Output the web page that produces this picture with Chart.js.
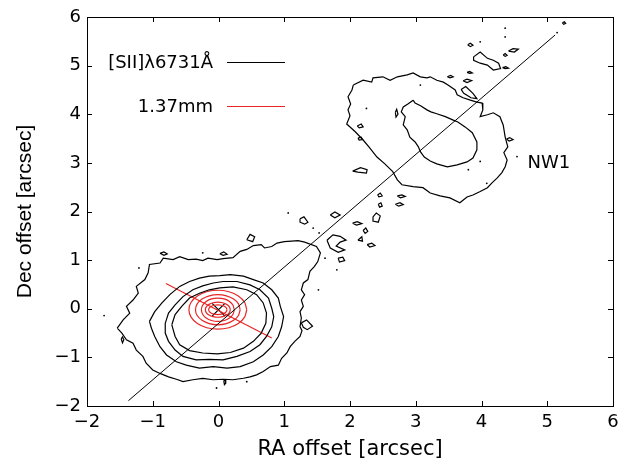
<!DOCTYPE html>
<html>
<head>
<meta charset="utf-8">
<script src="https://cdn.jsdelivr.net/npm/chart.js@4.4.0/dist/chart.umd.min.js"></script>
<style>
  html, body { margin: 0; padding: 0; background: #fff; }
  #wrap { width: 634px; height: 467px; }
</style>
</head>
<body>
<div id="wrap"><canvas id="c" width="634" height="467"></canvas></div>
<script>
// Axis ticks (arcsec)
const xTicks = [-2, -1, 0, 1, 2, 3, 4, 5, 6];
const yTicks = [-2, -1, 0, 1, 2, 3, 4, 5, 6];
const seriesNames = ['[SII]\u03bb6731\u00c5', '1.37mm'];
const knotName = 'NW1';
const knotLabelPos = [4.7, 3.0];

// [SII] contours around the source, lowest level first
const siiSouthL1 = [[-1.54,-0.40],[-1.45,-0.23],[-1.35,-0.09],[-1.40,0.05],[-1.30,0.18],[-1.22,0.32],[-1.25,0.46],[-1.12,0.60],[-1.07,0.74],[-1.05,0.91],[-0.89,0.94],[-0.84,1.04],[-0.69,1.01],[-0.59,1.07],[-0.46,1.01],[-0.34,1.02],[-0.24,0.99],[-0.16,1.04],[-0.02,1.01],[0.07,1.03],[0.22,1.05],[0.33,1.18],[0.43,1.22],[0.53,1.30],[0.65,1.32],[0.70,1.25],[0.81,1.28],[0.89,1.35],[1.00,1.38],[1.11,1.39],[1.21,1.40],[1.31,1.37],[1.49,1.28],[1.55,1.15],[1.51,0.97],[1.46,0.87],[1.39,0.77],[1.36,0.60],[1.29,0.53],[1.26,0.39],[1.31,0.29],[1.26,0.18],[1.29,0.05],[1.24,-0.06],[1.26,-0.19],[1.24,-0.37],[1.27,-0.45],[1.24,-0.57],[1.16,-0.67],[1.09,-0.78],[1.04,-0.91],[0.96,-1.02],[0.91,-1.16],[0.79,-1.19],[0.68,-1.29],[0.58,-1.36],[0.48,-1.40],[0.38,-1.43],[0.22,-1.46],[0.07,-1.45],[-0.08,-1.46],[-0.24,-1.43],[-0.39,-1.46],[-0.54,-1.50],[-0.64,-1.45],[-0.76,-1.40],[-0.89,-1.33],[-1.00,-1.26],[-1.10,-1.12],[-1.15,-0.98],[-1.25,-0.85],[-1.30,-0.71],[-1.40,-0.64],[-1.47,-0.50]];
const siiSouthL2 = [[-1.05,-0.26],[-0.97,-0.06],[-0.86,0.12],[-0.74,0.29],[-0.59,0.46],[-0.44,0.56],[-0.29,0.63],[-0.14,0.67],[0.02,0.68],[0.18,0.70],[0.38,0.67],[0.53,0.60],[0.68,0.53],[0.81,0.39],[0.91,0.22],[0.94,0.05],[0.99,-0.16],[0.96,-0.37],[0.91,-0.57],[0.81,-0.78],[0.68,-0.95],[0.53,-1.09],[0.33,-1.19],[0.13,-1.22],[-0.08,-1.19],[-0.29,-1.22],[-0.49,-1.16],[-0.64,-1.09],[-0.79,-0.95],[-0.89,-0.78],[-0.97,-0.57],[-1.02,-0.40]];
const siiSouthL3 = [[-0.81,-0.30],[-0.76,-0.09],[-0.66,0.08],[-0.54,0.25],[-0.39,0.39],[-0.24,0.47],[-0.08,0.53],[0.07,0.56],[0.28,0.56],[0.48,0.49],[0.63,0.39],[0.76,0.22],[0.81,0.01],[0.84,-0.16],[0.81,-0.37],[0.73,-0.57],[0.63,-0.74],[0.48,-0.88],[0.28,-0.98],[0.07,-1.05],[-0.14,-1.04],[-0.34,-1.05],[-0.54,-0.98],[-0.66,-0.85],[-0.76,-0.67],[-0.81,-0.50]];
const siiSouthL4 = [[-0.71,-0.33],[-0.66,-0.12],[-0.56,0.05],[-0.44,0.22],[-0.29,0.32],[-0.14,0.39],[0.02,0.43],[0.22,0.45],[0.43,0.39],[0.58,0.29],[0.68,0.12],[0.73,-0.09],[0.72,-0.30],[0.65,-0.50],[0.53,-0.67],[0.38,-0.81],[0.18,-0.90],[-0.02,-0.93],[-0.24,-0.91],[-0.44,-0.86],[-0.59,-0.74],[-0.66,-0.57]];

// [SII] contours of the NW1 knot
const siiKnotL1 = [[2.05,4.60],[2.20,4.70],[2.33,4.66],[2.35,4.75],[2.50,4.77],[2.61,4.70],[2.72,4.77],[2.87,4.81],[2.96,4.85],[3.07,4.77],[3.17,4.75],[3.22,4.77],[3.32,4.70],[3.42,4.66],[3.49,4.60],[3.60,4.50],[3.63,4.40],[3.72,4.34],[3.83,4.29],[3.93,4.25],[4.01,4.23],[4.02,4.09],[3.98,3.95],[4.09,3.99],[4.18,4.03],[4.28,3.95],[4.33,3.78],[4.36,3.53],[4.40,3.33],[4.34,3.21],[4.39,3.06],[4.36,2.92],[4.31,2.80],[4.24,2.69],[4.16,2.59],[4.09,2.49],[3.98,2.41],[3.87,2.34],[3.78,2.30],[3.67,2.18],[3.52,2.28],[3.37,2.32],[3.22,2.38],[3.11,2.49],[2.96,2.51],[2.79,2.55],[2.72,2.65],[2.65,2.82],[2.53,2.98],[2.41,3.12],[2.30,3.31],[2.20,3.47],[2.08,3.64],[1.95,3.80],[2.00,3.97],[1.97,4.09],[2.01,4.21],[1.97,4.36],[2.03,4.50]];
const siiKnotL2 = [[2.96,4.29],[2.88,4.21],[2.81,4.15],[2.78,4.05],[2.84,3.95],[2.81,3.78],[2.87,3.68],[2.91,3.53],[2.99,3.43],[3.04,3.33],[3.07,3.23],[3.13,3.12],[3.22,3.04],[3.32,2.98],[3.48,2.92],[3.63,2.96],[3.78,3.02],[3.87,3.10],[3.93,3.27],[3.93,3.43],[3.86,3.62],[3.75,3.74],[3.64,3.84],[3.57,3.88],[3.45,3.95],[3.32,4.01],[3.23,4.05],[3.17,4.09],[3.08,4.17],[2.99,4.23]];

// Small isolated [SII] islands along the jet
const siiIslands = [
  [[1.24,1.85],[1.30,1.89],[1.36,1.78],[1.31,1.74],[1.24,1.78]],
  [[1.70,1.93],[1.77,1.99],[1.85,1.93],[1.77,1.87]],
  [[0.43,1.42],[0.48,1.53],[0.55,1.48],[0.52,1.38]],
  [[0.02,1.13],[0.08,1.17],[0.13,1.12],[0.07,1.10]],
  [[1.65,1.41],[1.74,1.52],[1.85,1.49],[1.94,1.41],[1.85,1.37],[1.79,1.29],[1.92,1.21],[1.82,1.16],[1.70,1.25]],
  [[1.82,1.04],[1.89,1.06],[1.92,0.99],[1.84,0.96]],
  [[2.12,1.41],[2.18,1.48],[2.19,1.39]],
  [[2.26,1.32],[2.33,1.35],[2.38,1.30],[2.30,1.27]],
  [[2.04,1.76],[2.11,1.79],[2.18,1.75],[2.10,1.72]],
  [[2.20,1.61],[2.24,1.66],[2.27,1.59],[2.23,1.55]],
  [[2.35,1.89],[2.40,1.97],[2.46,1.91],[2.43,1.78],[2.36,1.80]],
  [[1.26,-0.29],[1.34,-0.23],[1.43,-0.36],[1.35,-0.43],[1.29,-0.38]],
  [[-1.48,-0.62],[-1.46,-0.58],[-1.44,-0.64],[-1.46,-0.70]],
  [[-0.89,1.14],[-0.83,1.17],[-0.78,1.13],[-0.83,1.10]],
  [[0.08,-1.48],[0.10,-1.46],[0.11,-1.53],[0.09,-1.56]],
  [[2.04,2.83],[2.16,2.90],[2.26,2.86],[2.25,2.79],[2.12,2.81]],
  [[2.11,3.76],[2.17,3.80],[2.20,3.74],[2.14,3.72]],
  [[2.12,3.51],[2.17,3.53],[2.19,3.48],[2.14,3.47]],
  [[2.69,4.04],[2.71,4.10],[2.73,4.00],[2.70,3.94]],
  [[3.48,4.77],[3.53,4.80],[3.57,4.77],[3.52,4.75]],
  [[3.72,4.69],[3.78,4.72],[3.85,4.69],[3.78,4.65]],
  [[3.69,4.51],[3.76,4.57],[3.87,4.43],[3.93,4.32],[3.84,4.34],[3.73,4.43]],
  [[2.42,2.34],[2.46,2.38],[2.49,2.32],[2.44,2.30]],
  [[2.72,2.32],[2.79,2.34],[2.84,2.31],[2.77,2.28]],
  [[2.69,2.15],[2.76,2.18],[2.81,2.14],[2.74,2.11]],
  [[2.43,2.15],[2.47,2.18],[2.49,2.11],[2.45,2.09]],
  [[3.88,5.18],[3.98,5.28],[4.09,5.15],[4.18,5.11],[4.26,5.05],[4.29,4.94],[4.18,4.91],[4.09,5.01],[3.98,5.05],[3.88,5.11]],
  [[3.79,5.43],[3.83,5.46],[3.87,5.42],[3.83,5.39]],
  [[4.41,5.30],[4.48,5.35],[4.56,5.34],[4.50,5.28]],
  [[4.33,5.22],[4.36,5.25],[4.39,5.21],[4.36,5.19]],
  [[4.32,4.96],[4.37,4.98],[4.41,4.95],[4.36,4.94]],
  [[3.78,4.86],[3.82,4.88],[3.86,4.85],[3.82,4.84]],
  [[4.38,3.49],[4.43,3.52],[4.48,3.48],[4.42,3.45]],
  [[5.23,5.88],[5.26,5.90],[5.28,5.87],[5.25,5.85]]
];
// Single-pixel [SII] specks
const siiSpecks = [[-1.74,-0.14],[-1.21,0.84],[-0.24,1.15],[-0.03,-1.63],[0.43,-1.50],[1.06,1.97],[1.44,1.66],[1.62,1.04],[1.52,0.39],[1.80,0.80],[2.25,4.12],[3.07,4.60],[4.36,5.77],[4.36,5.59],[3.98,5.49],[5.15,5.68],[3.98,3.03],[4.54,3.13],[3.80,2.86],[4.08,2.58],[1.53,1.56]];

// Jet axis and disk axis
const jetAxis = [[-1.37,-1.89],[5.12,5.63]];
const diskAxis = [[-0.80,0.52],[0.81,-0.60]];
const sourcePos = [[0.00,-0.02]];

// 1.37mm continuum contours, outermost first
const mmL1 = [[0.43,-0.02],[0.397,0.133],[0.301,0.263],[0.159,0.350],[-0.01,0.38],[-0.179,0.350],[-0.321,0.263],[-0.417,0.133],[-0.45,-0.02],[-0.417,-0.173],[-0.321,-0.303],[-0.179,-0.390],[-0.01,-0.42],[0.159,-0.390],[0.301,-0.303],[0.397,-0.173]];
const mmL2 = [[0.33,-0.02],[0.304,0.099],[0.23,0.199],[0.12,0.266],[-0.01,0.29],[-0.14,0.266],[-0.25,0.199],[-0.324,0.099],[-0.35,-0.02],[-0.324,-0.139],[-0.25,-0.239],[-0.14,-0.306],[-0.01,-0.33],[0.12,-0.306],[0.23,-0.239],[0.304,-0.139]];
const mmL3 = [[0.24,-0.02],[0.221,0.072],[0.167,0.15],[0.086,0.202],[-0.01,0.22],[-0.106,0.202],[-0.187,0.15],[-0.241,0.072],[-0.26,-0.02],[-0.241,-0.112],[-0.187,-0.19],[-0.106,-0.242],[-0.01,-0.26],[0.086,-0.242],[0.167,-0.19],[0.221,-0.112]];
const mmL4 = [[0.18,-0.02],[0.166,0.039],[0.124,0.09],[0.063,0.123],[-0.01,0.135],[-0.083,0.123],[-0.144,0.09],[-0.186,0.039],[-0.20,-0.02],[-0.186,-0.079],[-0.144,-0.13],[-0.083,-0.163],[-0.01,-0.175],[0.063,-0.163],[0.124,-0.13],[0.166,-0.079]];
const mmL5 = [[0.13,-0.02],[0.119,0.018],[0.089,0.051],[0.044,0.072],[-0.01,0.08],[-0.064,0.072],[-0.109,0.051],[-0.139,0.018],[-0.15,-0.02],[-0.139,-0.058],[-0.109,-0.091],[-0.064,-0.112],[-0.01,-0.12],[0.044,-0.112],[0.089,-0.091],[0.119,-0.058]];

const BLACK = '#000000';
const RED = 'rgb(232,38,38)';
const TEXT_FONT = "'DejaVu Sans', 'Liberation Sans', Arial, sans-serif";

const closeLoop = pts => pts.concat([pts[0]]);
const path = (pts, extra) => Object.assign({
  data: pts, showLine: true, pointRadius: 0, pointHoverRadius: 0,
  borderColor: BLACK, borderWidth: 1.2, tension: 0, fill: false
}, extra || {});

const datasets = [];
[siiSouthL1, siiSouthL2, siiSouthL3, siiSouthL4, siiKnotL1, siiKnotL2].forEach(c => {
  datasets.push(path(closeLoop(c), { label: seriesNames[0] }));
});
siiIslands.forEach(c => datasets.push(path(closeLoop(c), { label: seriesNames[0] })));
datasets.push({ label: seriesNames[0], data: siiSpecks, showLine: false, pointRadius: 0.9,
  pointBackgroundColor: BLACK, pointBorderWidth: 0 });
datasets.push(path(jetAxis, { label: seriesNames[0], borderWidth: 1 }));
[mmL1, mmL2, mmL3, mmL4, mmL5].forEach(c => {
  datasets.push(path(closeLoop(c), { label: seriesNames[1], borderColor: RED, tension: 0.2 }));
});
datasets.push(path(diskAxis, { label: seriesNames[1], borderColor: RED }));
datasets.push({ label: seriesNames[0], data: sourcePos, showLine: false, pointStyle: 'crossRot',
  pointRadius: 9, pointBorderColor: BLACK, pointBorderWidth: 1.2 });

const minusFmt = v => (v < 0 ? '\u2212' + Math.abs(v) : String(v));

// Boxed frame with inward ticks on all four sides
const frameTicks = {
  id: 'frameTicks',
  afterDatasetsDraw(chart) {
    const { ctx, chartArea: a, scales: { x, y } } = chart;
    const L = 5;
    ctx.save();
    ctx.strokeStyle = BLACK;
    ctx.lineWidth = 1;
    ctx.beginPath();
    xTicks.forEach(v => {
      const px = Math.round(x.getPixelForValue(v)) + 0.5;
      ctx.moveTo(px, a.bottom); ctx.lineTo(px, a.bottom - L);
      ctx.moveTo(px, a.top); ctx.lineTo(px, a.top + L);
    });
    yTicks.forEach(v => {
      const py = Math.round(y.getPixelForValue(v)) + 0.5;
      ctx.moveTo(a.left, py); ctx.lineTo(a.left + L, py);
      ctx.moveTo(a.right, py); ctx.lineTo(a.right - L, py);
    });
    ctx.stroke();
    ctx.strokeRect(Math.round(a.left) + 0.5, Math.round(a.top) + 0.5,
      Math.round(a.right - a.left), Math.round(a.bottom - a.top));
    ctx.restore();
  }
};

// Legend (text left of its line sample) and the knot label
const annotations = {
  id: 'annotations',
  afterDraw(chart) {
    const { ctx, scales: { x, y } } = chart;
    ctx.save();
    ctx.font = '18px ' + TEXT_FONT;
    ctx.fillStyle = BLACK;
    ctx.textAlign = 'right';
    ctx.textBaseline = 'middle';
    const rows = [{ text: seriesNames[0], color: BLACK, yPix: 62 }, { text: seriesNames[1], color: RED, yPix: 106 }];
    rows.forEach(r => {
      ctx.fillText(r.text, 213, r.yPix + 1);
      ctx.strokeStyle = r.color;
      ctx.lineWidth = 1;
      ctx.beginPath();
      ctx.moveTo(227, r.yPix + 0.5);
      ctx.lineTo(285, r.yPix + 0.5);
      ctx.stroke();
    });
    ctx.textAlign = 'left';
    ctx.fillText(knotName, x.getPixelForValue(knotLabelPos[0]), y.getPixelForValue(knotLabelPos[1]));
    ctx.restore();
  }
};

new Chart(document.getElementById('c'), {
  type: 'scatter',
  data: { datasets },
  options: {
    responsive: false,
    animation: false,
    devicePixelRatio: 1,
    layout: { padding: { top: 17, right: 21, bottom: 0, left: 0 } },
    plugins: { legend: { display: false }, tooltip: { enabled: false }, title: { display: false } },
    events: [],
    scales: {
      x: {
        type: 'linear', min: -2, max: 6,
        afterBuildTicks: s => { s.ticks = xTicks.map(v => ({ value: v })); },
        afterFit: s => { s.height = 61; },
        grid: { display: false, drawTicks: false },
        border: { display: false },
        ticks: { color: BLACK, font: { family: TEXT_FONT, size: 18 }, padding: 6, maxRotation: 0, callback: minusFmt },
        title: { display: true, text: 'RA offset [arcsec]', color: BLACK,
          font: { family: TEXT_FONT, size: 21 }, padding: { top: 0, bottom: 5 } }
      },
      y: {
        type: 'linear', min: -2, max: 6,
        afterBuildTicks: s => { s.ticks = yTicks.map(v => ({ value: v })); },
        afterFit: s => { s.width = 87; },
        grid: { display: false, drawTicks: false },
        border: { display: false },
        ticks: { color: BLACK, font: { family: TEXT_FONT, size: 18 }, padding: 6, callback: minusFmt },
        title: { display: true, text: 'Dec offset [arcsec]', color: BLACK,
          font: { family: "'Liberation Sans', Arial, sans-serif", size: 21 }, padding: { top: 13, bottom: 0 } }
      }
    }
  },
  plugins: [frameTicks, annotations]
});
</script>
</body>
</html>
